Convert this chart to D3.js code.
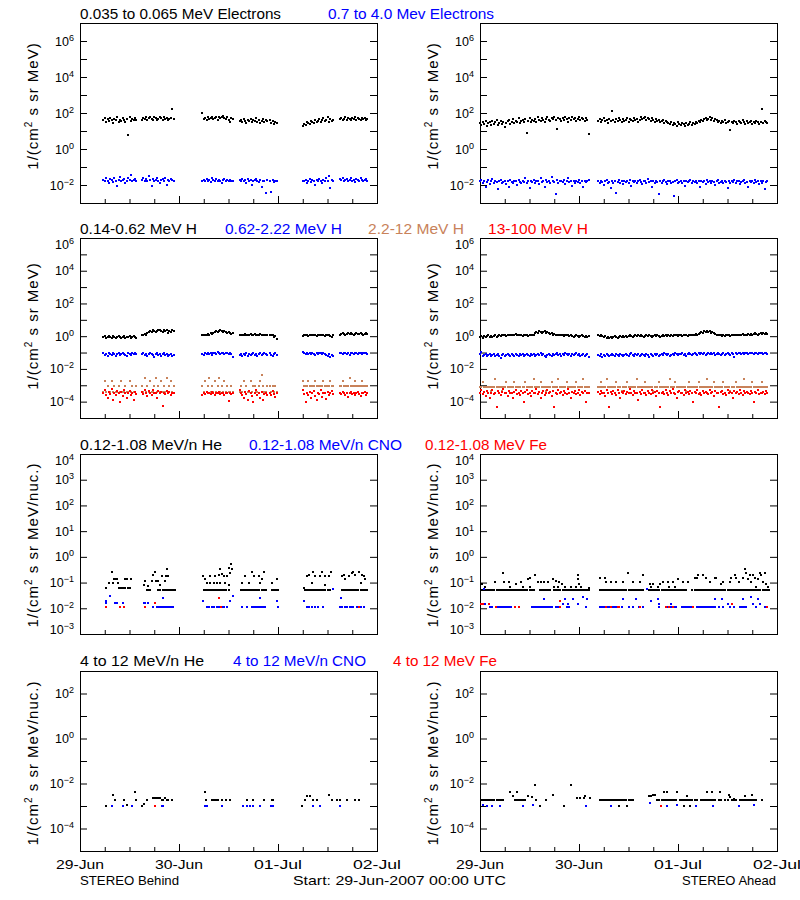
<!DOCTYPE html>
<html><head><meta charset="utf-8">
<script src="https://cdn.jsdelivr.net/npm/d3@7"></script>
<style>
body{margin:0;background:#fff}
text{font-family:"Liberation Sans",Arial,Helvetica,sans-serif}
</style></head>
<body><svg id="c" width="800" height="900"></svg>
<script>
// ---------------- DATA (intensities stored as log10 values) ----------------
const startLabel = "Start: 29-Jun-2007 00:00 UTC";
const dayLabels = ["29-Jun","30-Jun","01-Jul","02-Jul"];
const spacecraft = ["STEREO Behind","STEREO Ahead"];
const yUnits = ["1/(cm|2| s sr MeV)","1/(cm|2| s sr MeV)","1/(cm|2| s sr MeV/nuc.)","1/(cm|2| s sr MeV/nuc.)"];
const rowTitles = [
  ["0.035 to 0.065 MeV Electrons","0.7 to 4.0 Mev Electrons"],
  ["0.14-0.62 MeV H","0.62-2.22 MeV H","2.2-12 MeV H","13-100 MeV H"],
  ["0.12-1.08 MeV/n He","0.12-1.08 MeV/n CNO","0.12-1.08 MeV Fe"],
  ["4 to 12 MeV/n He","4 to 12 MeV/n CNO","4 to 12 MeV Fe"]
];
const rowLogDomain = [[-3,7],[-5,6],[-3,4],[-5,3]];

// data coverage: [start hour, number of 20-minute samples]
const behindSegments = [[5.67,25],[15,24],[29.67,23],[38.67,21],[46,6],[54,23],[63,21]];
const aheadSegments = [[0,80],[28.67,124]];

// Row 1 electrons, Behind
const behindElecLow = [
 1.6,1.7,1.5,1.65,1.55,1.7,1.6,1.45,1.65,1.6,1.75,1.5,1.6,1.55,1.7,1.6,1.5,1.65,0.8,1.75,1.55,1.65,1.6,1.7,1.6,
 1.6,1.7,1.65,1.75,1.6,1.7,1.8,1.65,1.6,1.75,1.7,1.6,1.65,1.8,1.7,1.6,1.75,1.65,1.7,1.6,1.65,1.7,2.2,1.65,
 2.0,1.65,1.7,1.6,1.75,1.65,1.7,1.8,1.65,1.7,1.75,1.6,1.8,1.7,1.75,1.85,1.7,1.65,1.75,1.6,1.5,1.7,1.65,
 1.55,1.6,1.5,1.65,1.55,1.45,1.6,1.55,1.65,1.5,1.6,1.55,1.7,1.5,1.6,1.45,1.55,1.65,1.5,1.6,1.55,
 1.6,1.45,1.55,1.4,1.5,1.45,
 1.3,1.4,1.35,1.5,1.45,1.4,1.55,1.5,1.45,1.6,1.5,1.55,1.65,1.5,1.6,1.7,1.55,1.6,1.8,1.5,1.65,1.55,1.6,
 1.65,1.7,1.6,1.65,1.75,1.6,1.7,1.65,1.6,1.7,1.65,1.75,1.6,1.7,1.65,1.6,1.7,1.65,1.7,1.6,1.65];
const behindElecHigh = [
 -1.7,-1.8,-1.6,-1.75,-1.9,-1.65,-1.7,-1.85,-1.6,-1.75,-2.05,-1.7,-1.55,-1.8,-1.7,-1.65,-1.9,-1.75,-1.6,-1.7,-1.45,-1.8,-1.7,-1.65,-1.75,
 -1.7,-1.6,-1.8,-1.65,-1.75,-1.5,-1.7,-2.05,-1.65,-1.8,-1.7,-1.6,-1.75,-1.9,-1.7,-1.65,-1.8,-1.6,-2.0,-1.7,-1.75,-1.65,-1.7,-1.8,
 -1.75,-1.7,-1.8,-1.65,-1.75,-1.7,-1.85,-1.6,-1.7,-1.75,-1.65,-1.8,-1.7,-1.75,-1.9,-1.7,-1.65,-1.8,-1.7,-1.75,-1.7,-1.8,-1.75,
 -1.7,-1.75,-1.65,-1.8,-1.7,-1.9,-1.65,-1.75,-1.7,-2.0,-1.8,-1.7,-1.65,-1.75,-1.85,-1.7,-2.1,-1.75,-1.8,-2.45,-1.7,
 -1.75,-2.4,-1.7,-1.85,-1.75,-1.8,
 -1.75,-1.8,-1.7,-1.9,-1.75,-1.65,-1.85,-1.7,-1.75,-2.0,-1.7,-1.8,-1.65,-1.75,-1.9,-1.7,-1.8,-1.6,-1.75,-1.5,-2.15,-1.7,-1.75,
 -1.65,-1.7,-1.6,-1.75,-1.7,-1.65,-1.8,-1.7,-1.6,-1.75,-1.7,-1.85,-1.65,-1.7,-1.75,-1.6,-1.7,-1.8,-1.7,-1.65,-1.75];
// Row 1 electrons, Ahead
const aheadElecLow = [
 1.45,1.35,1.5,1.4,1.55,1.3,1.45,1.5,1.35,1.55,1.4,1.5,1.6,1.35,1.45,1.55,1.4,1.5,1.25,1.45,
 1.55,1.6,1.4,1.5,1.65,1.45,1.55,1.5,1.7,1.45,1.55,1.6,1.5,1.65,0.9,1.55,1.7,1.5,1.6,1.55,
 1.65,1.5,1.75,1.6,1.55,1.7,1.6,1.5,1.65,1.75,1.6,1.55,1.7,1.65,1.8,1.6,1.1,1.7,1.65,1.55,
 1.7,1.6,1.75,1.65,1.5,1.7,1.6,1.8,1.65,1.7,1.55,1.65,1.75,1.6,1.7,1.65,1.55,1.7,1.6,0.85,
 1.55,1.65,1.5,1.6,1.7,1.55,1.6,1.45,1.65,1.55,2.1,1.6,1.5,1.65,1.55,1.7,1.6,1.5,1.65,1.55,
 1.6,1.7,1.5,1.65,1.6,1.55,1.7,1.6,1.65,1.5,1.6,1.75,1.65,1.7,1.8,1.6,1.7,1.65,1.55,1.7,
 1.6,1.5,1.65,1.55,1.6,1.5,1.55,1.6,1.45,1.55,1.5,1.45,1.4,1.5,1.35,1.45,1.4,1.3,1.5,1.4,
 1.35,1.45,1.4,1.3,1.45,1.35,1.4,1.5,1.35,1.45,1.4,1.5,1.45,1.55,1.5,1.6,1.55,1.65,1.7,1.6,
 1.65,1.75,1.6,1.7,1.55,1.65,1.6,1.5,1.55,1.45,1.55,1.5,1.6,1.45,1.5,1.55,1.05,1.5,1.45,1.55,
 1.5,1.4,1.55,1.5,1.45,1.6,1.5,1.4,1.55,1.45,1.5,1.55,1.4,1.5,1.45,1.55,1.5,1.4,1.5,2.2,
 1.45,1.55,1.5,1.45];
const aheadElecHigh = [
 -1.8,-1.7,-1.9,-1.75,-2.1,-1.85,-1.7,-1.95,-1.8,-1.65,-1.9,-1.75,-1.85,-2.2,-1.8,-1.7,-1.9,-1.85,-1.75,-1.95,
 -1.8,-2.1,-1.7,-1.85,-1.9,-1.75,-1.8,-2.0,-1.7,-1.85,-1.9,-1.75,-1.85,-1.6,-1.9,-1.8,-2.15,-1.75,-1.85,-1.7,
 -1.9,-1.8,-1.75,-1.95,-1.6,-1.85,-1.8,-2.1,-1.7,-1.85,-1.75,-1.9,-1.55,-1.8,-1.85,-2.5,-1.7,-1.9,-1.8,-1.75,
 -1.85,-1.7,-1.95,-1.8,-1.6,-1.85,-1.75,-2.05,-1.8,-1.9,-1.75,-1.85,-1.7,-1.9,-1.8,-2.1,-1.75,-1.85,-1.8,-1.7,
 -1.8,-1.9,-1.75,-1.85,-2.0,-1.8,-1.7,-1.9,-1.85,-2.15,-1.75,-1.9,-1.8,-2.45,-1.85,-1.7,-1.9,-1.8,-1.95,-1.75,
 -1.85,-1.8,-1.9,-1.7,-2.05,-1.8,-1.85,-1.75,-1.9,-1.8,-1.7,-1.85,-1.95,-1.75,-1.8,-1.9,-1.65,-1.85,-1.8,-2.1,
 -1.75,-1.9,-1.8,-1.85,-2.5,-1.75,-1.9,-1.8,-1.7,-1.85,-1.95,-1.8,-1.75,-1.9,-1.85,-2.6,-1.8,-1.7,-1.9,-1.85,
 -1.75,-1.9,-1.8,-2.05,-1.75,-1.85,-1.8,-1.7,-1.9,-1.8,-1.85,-1.75,-1.9,-1.8,-2.1,-1.75,-1.85,-1.8,-1.95,-1.7,
 -1.85,-1.8,-1.9,-1.75,-1.85,-2.0,-1.8,-1.7,-1.9,-1.85,-1.75,-1.9,-1.8,-1.85,-2.15,-1.75,-1.9,-1.8,-1.85,-1.7,
 -1.9,-1.8,-1.75,-1.95,-1.85,-1.8,-1.7,-1.9,-1.85,-2.1,-1.75,-1.85,-1.8,-1.9,-1.7,-1.85,-1.8,-1.95,-1.75,-1.9,
 -1.8,-2.2,-1.85,-1.8];

// Row 2 protons, Behind
const behindH1 = [
 -0.05,0,-0.1,-0.05,0,-0.05,-0.1,0,-0.05,-0.1,-0.05,0,-0.05,-0.1,-0.05,0,-0.1,-0.05,-0.05,0,-0.1,-0.05,0,-0.05,-0.1,
 0.05,0.1,0.15,0.1,0.2,0.25,0.3,0.25,0.35,0.3,0.25,0.3,0.35,0.4,0.3,0.25,0.35,0.3,0.4,0.2,0.3,0.25,0.35,0.3,
 0.05,0.1,0.05,0.1,0.15,0.1,0.2,0.15,0.2,0.25,0.3,0.25,0.3,0.35,0.3,0.25,0.3,0.25,0.2,0.25,0.2,0.15,0.2,
 0.05,0.1,0.05,0.1,0.15,0.1,0.05,0.1,0.15,0.1,0.1,0.15,0.1,0.05,0.1,0.15,0.1,0.05,0.1,0.1,0.05,
 0.1,0.05,0.1,-0.05,0,-0.15,
 0,0.05,0.1,0.05,0,0.05,0.1,0.05,0.1,0.05,0,0.05,0.1,0.05,0.05,0.1,0,0.05,0.1,0.05,0,-0.05,0.05,
 0.1,0.15,0.2,0.15,0.1,0.15,0.2,0.15,0.2,0.15,0.1,0.15,0.2,0.15,0.15,0.2,0.15,0.1,0.15,0.2,0.15];
const behindH2 = [
 -1.05,-1.15,-1.1,-1.2,-1.05,-1.1,-1.15,-1.0,-1.1,-1.2,-1.1,-1.05,-1.15,-1.1,-1.0,-1.1,-1.15,-1.2,-1.05,-1.1,-1.15,-1.05,-1.1,-1.0,-1.1,
 -1.1,-1.05,-1.15,-1.1,-1.2,-1.1,-1.05,-1.1,-1.15,-1.3,-1.1,-1.05,-1.15,-1.1,-1.2,-1.1,-1.05,-1.15,-1.1,-1.2,-1.15,-1.1,-1.2,-1.15,
 -1.1,-1.15,-1.05,-1.1,-1.0,-1.1,-1.05,-1.15,-1.0,-1.05,-1.1,-0.95,-1.05,-1.1,-1.0,-1.05,-1.1,-1.05,-1.0,-1.1,-1.05,-1.1,-1.3,
 -1.15,-1.1,-1.2,-1.1,-1.15,-1.05,-1.2,-1.1,-1.15,-1.1,-1.05,-1.15,-1.1,-1.2,-1.1,-1.05,-1.15,-1.1,-1.05,-1.1,-1.15,
 -1.05,-1.15,-1.2,-1.1,-1.05,-1.15,
 -0.95,-1.05,-1.1,-1.05,-1.1,-1.0,-1.1,-1.05,-1.1,-1.15,-1.05,-1.1,-1.0,-1.05,-1.1,-1.05,-1.1,-1.15,-1.2,-1.1,-1.25,-1.15,-1.2,
 -1.05,-1.0,-1.1,-1.05,-1.0,-1.1,-1.05,-1.15,-1.0,-1.05,-1.1,-1.0,-1.05,-1.1,-1.05,-1.0,-1.1,-1.05,-1.0,-1.05,-1.1];
const behindH3 = [
 -3.4,-2.75,-3.4,-3.05,-3.4,-3.4,-2.75,-3.4,-3.05,-3.4,-3.4,-3.05,-3.4,-2.75,-3.4,-3.4,-3.05,-3.4,-3.4,-2.75,-3.4,-3.05,-3.4,-3.4,-3.05,
 -3.05,-3.4,-2.55,-3.4,-3.05,-3.4,-2.75,-3.4,-3.4,-3.05,-2.55,-3.4,-3.05,-3.4,-2.75,-3.4,-3.05,-3.4,-2.55,-3.4,-3.05,-2.75,-3.4,-3.05,
 -3.05,-3.4,-2.75,-3.4,-3.05,-2.55,-3.4,-3.05,-3.4,-2.75,-3.4,-3.05,-2.55,-3.4,-3.05,-3.4,-2.75,-3.4,-3.05,-3.4,-3.4,-3.05,-3.4,
 -3.4,-3.05,-3.4,-2.75,-3.4,-3.05,-3.4,-3.4,-2.75,-3.4,-3.05,-3.05,-3.4,-3.4,-3.05,-2.75,-2.35,-3.05,-3.4,-3.4,-3.05,
 -3.05,-3.4,-3.05,-3.4,-3.05,-3.4,
 -2.75,-3.05,-3.05,-3.05,-2.75,-3.05,-3.05,-3.05,-3.05,-2.75,-3.05,-3.05,-3.05,-3.05,-3.05,-2.75,-3.05,-3.05,-3.05,-3.05,-2.75,-3.05,-3.05,
 -3.05,-3.05,-2.75,-3.05,-3.05,-3.05,-3.05,-2.55,-3.05,-3.05,-3.05,-2.75,-3.05,-3.05,-3.05,-3.05,-2.75,-3.05,-3.05,-3.05,-3.05];
const behindH4 = [
 -3.45,-3.3,-3.6,-3.75,-3.4,-3.55,-3.25,-3.9,-3.45,-3.6,-3.35,-3.5,-4.05,-3.4,-3.65,-3.3,-3.5,-3.8,-3.45,-3.35,-3.6,-3.5,-3.9,-3.4,-3.55,
 -3.4,-3.55,-3.3,-3.5,-3.65,-3.35,-3.45,-3.6,-3.3,-3.5,-3.45,-3.75,-3.35,-3.5,-3.4,-4.25,-3.45,-3.55,-3.35,-3.5,-3.4,-3.6,-3.45,-3.5,
 -3.6,-3.45,-3.55,-3.4,-3.5,-3.45,-3.55,-3.4,-3.5,-3.6,-3.45,-3.5,-3.4,-3.55,-3.45,-3.5,-3.6,-3.45,-3.5,-3.95,-3.45,-3.55,-3.5,
 -3.3,-3.45,-3.6,-3.75,-3.4,-3.55,-3.9,-3.35,-3.5,-3.65,-4.05,-3.45,-3.3,-3.6,-3.5,-3.75,-3.4,-3.9,-3.55,-3.45,-3.6,
 -3.45,-3.6,-3.35,-3.55,-3.7,-3.45,
 -3.3,-3.55,-4.05,-3.45,-3.6,-3.4,-3.75,-3.5,-3.35,-3.65,-3.9,-3.45,-3.55,-3.3,-3.7,-3.5,-3.45,-3.85,-3.4,-3.6,-3.5,-3.35,-3.55,
 -3.45,-3.55,-3.4,-3.5,-3.6,-3.45,-3.7,-3.5,-3.4,-3.55,-3.45,-3.6,-3.5,-3.4,-3.55,-3.65,-3.45,-3.5,-3.4,-3.6,-3.5];
// Row 2 protons, Ahead
const aheadH1 = [
 -0.05,0,-0.1,0,-0.05,0,0.05,-0.05,0,-0.05,0,0.05,-0.05,0,0.05,0,0.05,0.1,0.05,0,
 0.05,0.1,0.05,0.1,0.05,0.1,0.15,0.1,0.05,0.1,0.05,0,0.05,0.1,0.05,0,0.05,0.1,0.05,0.1,
 0.2,0.25,0.2,0.3,0.25,0.2,0.25,0.3,0.2,0.25,0.2,0.15,0.2,0.1,0.15,0.1,0.05,0.1,0.05,0.1,
 0.05,0,0.05,0.1,0.05,0,0.05,0,-0.05,0,0.05,0,-0.05,0,0.05,0,-0.05,0,-0.05,0,
 0.05,0,0.05,0,-0.05,0,-0.1,-0.05,-0.1,-0.05,-0.1,-0.05,0,-0.05,-0.1,-0.05,0,-0.05,0,-0.05,
 0,-0.05,0,0.05,0,-0.05,0,0.05,0,0.05,0,0.05,0,-0.05,0,0.05,0,0.05,0,-0.05,
 0,0.05,0,0.05,0,-0.05,0,0.05,0,0.05,0,0.05,0,0.05,0,0.05,0.1,0.05,0,0.05,
 0.05,0,0.05,0.1,0.05,0,0.05,0.1,0.05,0.1,0.1,0.15,0.1,0.15,0.2,0.25,0.2,0.3,0.25,0.3,
 0.25,0.3,0.2,0.25,0.2,0.15,0.1,0.05,0.1,0.05,0,0.05,0,0.05,0.1,0.05,0,0.05,0.1,0.05,
 0.1,0.05,0.1,0.05,0.1,0.15,0.1,0.05,0.1,0.15,0.1,0.15,0.1,0.15,0.2,0.15,0.1,0.15,0.2,0.15,
 0.2,0.15,0.2,0.15];
const aheadH2 = [
 -1.1,-0.95,-1.2,-1.15,-1.1,-1.2,-1.15,-1.1,-1.2,-1.15,-1.1,-1.2,-1.15,-1.1,-1.2,-1.35,-1.15,-1.1,-1.2,-1.15,
 -1.1,-1.15,-1.2,-1.1,-1.15,-1.2,-1.1,-1.15,-1.2,-1.1,-1.15,-1.1,-1.2,-1.15,-1.1,-1.15,-1.2,-1.1,-1.15,-1.1,
 -1.2,-1.15,-1.1,-1.15,-1.05,-1.15,-1.1,-1.2,-1.3,-1.15,-1.1,-1.15,-1.2,-1.1,-1.15,-1.1,-1.05,-1.15,-1.1,-1.2,
 -1.1,-1.15,-1.05,-1.1,-1.15,-1.1,-1.2,-1.1,-1.15,-1.1,-1.05,-1.15,-1.1,-1.2,-1.15,-1.1,-1.2,-1.15,-1.1,-1.25,
 -1.15,-1.2,-1.1,-1.25,-1.15,-1.2,-1.1,-1.15,-1.2,-1.15,-1.1,-1.15,-1.2,-1.1,-1.15,-1.2,-1.1,-1.15,-1.2,-1.15,
 -1.1,-1.15,-1.2,-1.1,-1.05,-1.15,-1.2,-1.1,-1.15,-1.1,-1.2,-1.15,-1.1,-1.15,-1.2,-1.1,-1.15,-1.3,-1.1,-1.15,
 -1.2,-1.1,-1.15,-1.1,-1.2,-1.15,-1.1,-1.15,-1.05,-1.1,-1.15,-1.1,-1.2,-1.15,-1.1,-1.15,-1.05,-1.1,-1.15,-1.1,
 -1.1,-1.05,-1.15,-1.1,-1.2,-1.1,-1.05,-1.1,-1.15,-1.1,-1.05,-1.1,-1.15,-1.05,-1.1,-1.0,-1.1,-1.05,-1.15,-1.1,
 -1.05,-1.1,-1.0,-1.1,-1.05,-1.15,-1.1,-1.05,-1.1,-1.15,-1.1,-1.05,-1.15,-1.1,-1.05,-1.1,-1.15,-1.05,-1.1,-1.3,
 -1.05,-1.1,-1.0,-1.05,-1.1,-1.05,-1.1,-1.0,-1.05,-1.1,-1.05,-1.0,-1.05,-1.1,-1.0,-1.05,-1.1,-1.05,-1.0,-1.05,
 -1.1,-1.0,-1.05,-1.1];
const aheadH3 = [
 -3.1,-3.1,-2.8,-3.1,-3.1,-3.1,-3.1,-3.1,-3.35,-3.1,-3.1,-2.6,-3.1,-3.1,-3.1,-3.1,-3.35,-3.1,-3.1,-2.8,
 -3.1,-3.1,-3.1,-3.1,-3.1,-2.8,-3.1,-3.1,-3.1,-3.1,-3.35,-3.1,-3.1,-2.8,-3.1,-3.1,-3.1,-3.1,-3.1,-2.6,
 -3.1,-3.1,-3.1,-3.1,-2.8,-3.1,-3.1,-3.1,-3.35,-3.1,-3.1,-3.1,-2.8,-3.1,-3.1,-3.1,-3.1,-2.6,-3.1,-3.1,
 -3.1,-3.1,-3.1,-2.8,-3.1,-3.1,-3.1,-3.1,-3.1,-3.1,-2.8,-3.1,-3.1,-3.1,-3.1,-2.6,-3.1,-3.1,-3.1,-3.1,
 -3.1,-3.1,-2.8,-3.1,-3.1,-3.1,-2.6,-3.1,-3.1,-3.1,-3.1,-3.1,-3.1,-2.8,-3.1,-3.1,-3.1,-3.35,-3.1,-3.1,
 -3.1,-2.8,-3.1,-3.1,-3.1,-3.1,-3.1,-3.1,-2.6,-3.1,-3.1,-3.1,-3.1,-3.1,-2.8,-3.1,-3.1,-3.1,-3.1,-3.1,
 -3.35,-3.1,-3.1,-3.1,-2.8,-3.1,-3.1,-3.1,-3.1,-3.1,-3.1,-3.1,-2.6,-3.1,-3.1,-3.1,-2.8,-3.1,-3.1,-3.1,
 -3.1,-3.1,-3.1,-3.1,-3.35,-3.1,-2.8,-3.1,-3.1,-3.1,-3.1,-3.1,-3.1,-2.8,-3.1,-3.1,-3.1,-3.1,-3.1,-2.6,
 -3.1,-3.1,-3.1,-3.1,-2.8,-3.1,-3.1,-3.1,-3.1,-3.1,-3.1,-2.8,-3.1,-3.1,-3.1,-3.1,-3.35,-3.1,-3.1,-3.1,
 -2.8,-3.1,-3.1,-3.1,-3.1,-3.1,-2.6,-3.1,-3.1,-3.1,-3.1,-3.1,-2.8,-3.1,-3.1,-3.1,-3.1,-3.1,-3.1,-2.8,
 -3.1,-3.1,-3.1,-3.1];
const aheadH4 = [
 -3.45,-3.3,-3.55,-3.4,-3.65,-3.35,-3.5,-3.8,-3.45,-3.3,-3.55,-3.45,-4.3,-3.35,-3.5,-3.6,-3.4,-3.25,-3.5,-3.45,
 -3.65,-3.35,-3.5,-3.45,-3.8,-3.4,-3.3,-3.55,-3.45,-3.6,-3.35,-3.5,-4.0,-3.4,-3.3,-3.55,-3.45,-3.65,-3.35,-3.5,
 -3.45,-3.25,-3.55,-3.4,-3.8,-3.5,-3.35,-3.6,-3.45,-3.3,-3.5,-3.4,-3.65,-3.35,-4.3,-3.45,-3.55,-3.3,-3.5,-3.4,
 -3.6,-3.35,-3.45,-3.55,-3.25,-3.5,-3.8,-3.4,-3.45,-3.35,-3.55,-3.45,-3.3,-3.6,-3.4,-3.5,-3.35,-4.0,-3.45,-3.5,
 -3.4,-3.55,-3.35,-3.5,-3.45,-3.65,-3.3,-3.5,-4.3,-3.4,-3.55,-3.35,-3.45,-3.6,-3.3,-3.5,-3.8,-3.4,-3.45,-3.35,
 -3.55,-3.4,-3.5,-3.25,-3.45,-3.6,-3.35,-3.5,-3.45,-3.9,-3.4,-3.55,-3.3,-3.5,-3.45,-3.6,-3.35,-3.45,-3.55,-3.3,
 -3.5,-3.4,-3.65,-3.35,-3.45,-4.3,-3.5,-3.4,-3.55,-3.3,-3.45,-3.6,-3.35,-3.5,-3.25,-3.45,-3.55,-3.8,-3.4,-3.35,
 -3.5,-3.45,-3.6,-3.3,-3.5,-3.4,-3.55,-3.35,-3.45,-4.0,-3.4,-3.5,-3.3,-3.55,-3.45,-3.6,-3.35,-3.5,-3.4,-3.45,
 -3.55,-3.3,-3.5,-3.4,-3.65,-3.35,-3.45,-3.5,-4.3,-3.4,-3.35,-3.55,-3.45,-3.6,-3.3,-3.5,-3.4,-3.45,-3.8,-3.35,
 -3.5,-3.4,-3.55,-3.3,-3.45,-3.6,-3.35,-3.5,-3.4,-3.45,-3.55,-3.35,-3.5,-4.0,-3.4,-3.45,-3.3,-3.55,-3.45,-3.5,
 -3.4,-3.55,-3.35,-3.45];

// Row 3 and row 4 ions: [hour, log10 intensity]
const behindHeLow = [[6.3,-1.2],[7,-1],[7.85,-0.58],[8.1,-1],[8.25,-0.87],[8.65,-0.87],[9,-0.87],[9.15,-1],[9.5,-1.2],[10,-1.2],[10.5,-1.2],[10.8,-0.87],[11,-1.2],[11.3,-0.85],[11.6,-1.2],[12,-1.2],[12.4,-0.87],
 [15.4,-1.1],[15.8,-0.95],[16.2,-1.28],[16.6,-1.28],[16.6,-1.15],[17,-1.28],[17.4,-0.95],[17.8,-0.72],[18.2,-0.58],[18.4,-0.95],[19,-0.95],[19,-1.28],[19.4,-1.1],[19.5,-1.28],[19.8,-0.75],[20,-1.28],[20.5,-1.28],[20.6,-0.95],[20.8,-0.75],[21,-0.48],[21,-1.28],[21.4,-0.75],[21.5,-1.28],[22,-1.28],[22.5,-1.28],[23,-1.28],
 [29.9,-0.75],[30,-1.28],[30.3,-0.87],[30.5,-1.28],[30.7,-1],[31,-1.28],[31.5,-1.28],[31.6,-1],[31.6,-0.75],[32,-1.28],[32.4,-1],[32.5,-1.28],[32.8,-0.75],[33,-1.28],[33.2,-1],[33.5,-1.28],[33.6,-0.72],[34,-1],[34,-0.48],[34,-1.28],[34.4,-0.68],[34.5,-1.28],[34.8,-0.75],[35,-1.28],[35.2,-1],[35.5,-1.28],[35.6,-0.75],[36,-1.28],[36,-0.45],[36,-1.1],[36.4,-0.62],[36.6,-0.28],[36.8,-0.48],
 [39,-1.28],[39.2,-1],[39.5,-1.28],[40,-1.28],[40,-0.75],[40.5,-1.28],[40.9,-1],[41,-1.28],[41.5,-1.28],[41.8,-0.58],[42,-1.28],[42.1,-0.75],[42.5,-1.28],[43,-1.28],[43.3,-0.75],[43.5,-1.28],[43.7,-1],[44,-1.28],[44.1,-0.87],[44.5,-1.28],[44.5,-0.6],[45,-1.28],
 [46.5,-1.28],[46.5,-1],[47,-1.28],[47.5,-1.28],[47.7,-0.85],[48,-1.28],
 [54.2,-1.2],[54.5,-1.28],[55,-1.28],[55,-0.75],[55.4,-0.72],[55.5,-1.28],[56,-1.28],[56.2,-1],[56.5,-1.28],[56.6,-0.58],[57,-1.28],[57,-0.75],[57.5,-1.28],[58,-1.28],[58.2,-0.75],[58.5,-1.28],[58.7,-0.58],[59,-1.28],[59.5,-1.28],[59.5,-0.75],[59.5,-1.1],[60,-1.28],[60.3,-0.75],[60.5,-1.28],[60.8,-0.58],
 [63.5,-1.28],[63.5,-0.75],[63.9,-0.72],[64,-1.28],[64.3,-0.87],[64.5,-1.28],[65,-1.28],[65.1,-0.75],[65.5,-1.28],[65.9,-0.62],[66,-1.28],[66.3,-0.58],[66.5,-1.28],[66.7,-0.72],[67,-1.28],[67.5,-1.28],[67.6,-0.58],[68,-1.28],[68,-1],[68.4,-0.72],[68.5,-1.28],[68.8,-0.75],[69,-1.28],[69.2,-0.87],[69.5,-1.28]];
const behindCnoLow = [[6.2,-1.7],[6.2,-1.81],[7.3,-1.53],[8.5,-1.81],[9,-1.81],[10.35,-1.81],[15.4,-1.81],[15.8,-1.81],[16.6,-1.81],[17.8,-1.94],[18.6,-1.94],[19,-1.94],[19.4,-1.94],[19.8,-1.94],[20.2,-1.94],[20.2,-1.6],[20.6,-1.94],[21,-1.94],[21.4,-1.94],[21.8,-1.94],[22.2,-1.94],[22.6,-1.94],
 [29.7,-1.7],[30.9,-1.94],[31.3,-1.94],[32.1,-1.94],[32.5,-1.94],[33.3,-1.94],[33.7,-1.94],[34.5,-1.94],[34.9,-1.94],[35.6,-1.94],[36.4,-1.7],[37,-1.53],
 [39.2,-1.94],[40.4,-1.94],[41.7,-1.94],[42.1,-1.94],[42.5,-1.94],[42.9,-1.94],[43.3,-1.94],[43.7,-1.6],[43.7,-1.94],[44.1,-1.94],[44.5,-1.94],[44.9,-1.94],[47.7,-1.7],[48,-1.94],
 [54.2,-1.7],[55,-1.94],[55.4,-1.94],[56.2,-1.94],[57,-1.94],[57.8,-1.94],[59,-1.94],
 [61.4,-1.25],[63.3,-1.6],[63.1,-1.94],[63.5,-1.94],[64.3,-1.94],[64.7,-1.94],[65.5,-1.94],[65.9,-1.94],[66.3,-1.94],[67.2,-1.94],[68,-1.94],[68.8,-1.94]];
const behindFeLow = [[6.3,-1.94],[9.7,-1.94],[10.6,-1.94],[15.8,-1.94],[18.2,-1.81],[33.7,-1.6],[34.2,-1.94],[67.6,-1.94]];

const aheadHeLow = [[0.5,-1.3],[1,-1.3],[1.5,-1.3],[2,-1.3],[2.5,-1.3],[3,-1.3],[3.5,-1.3],[4,-1.3],[4.5,-1.3],[5,-1.3],[5.5,-1.3],[6,-1.3],[6.5,-1.3],[7,-1.3],[7.5,-1.3],[8,-1.3],[8.5,-1.3],[9,-1.3],[9.5,-1.3],[10,-1.3],[10.5,-1.3],[11,-1.3],[11.5,-1.3],[12,-1.3],[12.5,-1.3],[13,-1.3],
 [14.5,-1.3],[15,-1.3],[15.5,-1.3],[16,-1.3],[16.5,-1.3],[17,-1.3],
 [18,-1.3],[18.5,-1.3],[19,-1.3],[19.5,-1.3],[20,-1.3],[20.5,-1.3],[21,-1.3],[21.5,-1.3],[22,-1.3],[22.5,-1.3],[23,-1.3],[23.5,-1.3],[24,-1.3],[24.5,-1.3],[25,-1.3],[25.5,-1.3],[26,-1.3],[26.5,-1.3],
 [29,-1.3],[29.5,-1.3],[30,-1.3],[30.5,-1.3],[31,-1.3],[31.5,-1.3],[32,-1.3],[32.5,-1.3],[33,-1.3],[33.5,-1.3],[34,-1.3],[34.5,-1.3],[35,-1.3],[35.5,-1.3],[36,-1.3],[36.5,-1.3],[37,-1.3],[37.5,-1.3],[38,-1.3],[38.5,-1.3],[39,-1.3],[39.5,-1.3],
 [41,-1.3],[41.5,-1.3],[42,-1.3],[42.5,-1.3],[43,-1.3],[43.5,-1.3],[44,-1.3],[44.5,-1.3],[45,-1.3],[45.5,-1.3],[46,-1.3],[46.5,-1.3],[47,-1.3],[47.5,-1.3],[48,-1.3],[48.5,-1.3],[49,-1.3],[49.5,-1.3],[50,-1.3],[51.5,-1.3],[52,-1.3],[52.5,-1.3],[53,-1.3],[53.5,-1.3],[54,-1.3],[54.5,-1.3],[55,-1.3],[55.5,-1.3],[56,-1.3],[56.5,-1.3],[57,-1.3],[57.5,-1.3],[58,-1.3],[58.5,-1.3],[59,-1.3],[59.5,-1.3],[60,-1.3],[60.5,-1.3],[61,-1.3],[61.5,-1.3],[62,-1.3],[62.5,-1.3],[63,-1.3],[63.5,-1.3],[64,-1.3],[64.5,-1.3],[65,-1.3],[65.5,-1.3],[66,-1.3],[66.5,-1.3],[67,-1.3],[67.5,-1.3],[68,-1.3],[68.5,-1.3],[69,-1.3],[69.5,-1.3],[70,-1.3],
 [0.5,-1.06],[1.3,-1.18],[3.7,-0.99],[5.5,-0.62],[5.9,-0.99],[7.1,-0.99],[7.3,-1.18],[8.7,-1.06],[9.9,-0.99],[10.4,-1.18],[11.6,-0.88],[12,-0.82],[12.1,-1.18],[13.4,-0.7],[14,-0.99],[14.8,-0.99],[15.6,-0.99],[16.4,-0.99],[17.6,-0.88],[18,-1.18],[18.4,-0.92],[18.8,-1.18],[19.1,-0.99],[19.9,-1.06],[20.5,-1.18],[22.1,-1.18],[23.3,-1.18],[23.7,-0.71],[23.7,-0.88],[24.1,-1.06],[24.5,-1.18],[26.5,-1.2],
 [29.1,-0.82],[30.2,-0.82],[30.6,-0.99],[31.8,-0.99],[33,-0.99],[34.6,-0.99],[35.8,-0.62],[37.1,-0.99],[38.9,-0.99],[39.5,-0.71],[41.1,-1.06],[41.5,-1.18],[41.9,-1.06],[43.1,-1.18],[43.7,-1.06],[44.3,-0.99],[45.5,-0.99],[45.9,-1.18],[46.8,-0.99],[47.3,-1.18],[48,-0.88],[49.2,-0.99],[50.4,-0.99],[52,-0.82],[52.6,-0.82],[52.8,-0.71],[54,-0.71],[54.9,-0.82],[55.7,-0.99],[56.9,-0.82],[57.3,-0.82],[58.5,-1.06],[58.9,-0.99],[60.5,-0.99],[60.9,-0.82],[61.7,-0.71],[62.1,-0.82],[62.9,-0.99],[63.8,-0.82],[64.2,-0.49],[64.6,-0.62],[65,-0.88],[65.4,-0.71],[65.8,-0.99],[66.2,-0.71],[66.6,-0.82],[67,-1.18],[67.4,-0.88],[67.8,-0.62],[68.2,-0.71],[68.6,-0.99],[69,-0.62],[69.4,-1.06],[69.8,-1.18]];
const aheadCnoLow = [[2.5,-1.96],[3,-1.96],[4,-1.96],[4.5,-1.96],[5,-1.96],[5.5,-1.96],[6,-1.96],[6.5,-1.96],[7,-1.96],[7.5,-1.96],[9.5,-1.96],[12.5,-1.96],[13,-1.96],[13.5,-1.96],[14,-1.96],[14.5,-1.96],[15,-1.96],[15.5,-1.96],[16,-1.96],[16.5,-1.96],[17,-1.96],[17.5,-1.96],[18.5,-1.96],[19,-1.96],[21,-1.96],[21.5,-1.96],[25.7,-1.96],
 [29,-1.96],[29.5,-1.96],[30,-1.96],[30.5,-1.96],[31,-1.96],[31.5,-1.96],[32,-1.96],[32.5,-1.96],[33,-1.96],[33.5,-1.96],[34.5,-1.96],[36,-1.96],[37,-1.96],[38.5,-1.96],[39.5,-1.96],[43.5,-1.96],[45,-1.96],[45.5,-1.96],[46,-1.96],[46.5,-1.96],[47,-1.96],[47.5,-1.96],[49,-1.96],[49.5,-1.96],[50,-1.96],[50.5,-1.96],[51,-1.96],[51.5,-1.96],[52.5,-1.96],[53,-1.96],[53.5,-1.96],[54,-1.96],[54.5,-1.96],[55,-1.96],[55.5,-1.96],[56,-1.96],[56.5,-1.96],[57,-1.96],[58,-1.96],[59,-1.96],[60.5,-1.96],[61.5,-1.96],[63,-1.96],[63.5,-1.96],[64,-1.96],[64.5,-1.96],[67,-1.96],[69,-1.96],[69.5,-1.96],
 [1,-1.25],[1.3,-1.83],[15.6,-1.63],[20.2,-1.83],[20.5,-1.63],[21.3,-1.83],[22.5,-1.63],[23.7,-1.83],[24.9,-1.55],[25.9,-1.63],[34.6,-1.63],[37.9,-1.63],[40.4,-1.25],[41.5,-1.72],[43.1,-1.63],[43.4,-1.83],[46.4,-1.83],[56.9,-1.63],[58.7,-1.63],[60.1,-1.83],[63.8,-1.63],[65.8,-1.55],[66.2,-1.83],[67.4,-1.63],[67.8,-1.83]];
const aheadFeLow = [[0.2,-1.83],[0.8,-1.83],[2.1,-1.83],[3.9,-1.96],[8.6,-1.96],[9.5,-1.96],[19.4,-1.72],[19.4,-1.96],[30.6,-1.96],[31.8,-1.96],[33.4,-1.96],[33.8,-1.96],[38.8,-1.96],[45.1,-1.96],[45.9,-1.96],[46.8,-1.96],[51.6,-1.96],[61.2,-1.83],[69.6,-1.96]];

const behindHeHigh = [[6.3,-3.01],[7.9,-2.52],[8.5,-2.74],[10.7,-2.74],[11.3,-2.95],[13.3,-2.37],[13.6,-2.74],[15,-3.01],[15.5,-2.9],[16.2,-2.74],[17.8,-2.65],[18.2,-2.65],[18.6,-2.65],[19,-2.65],[19.4,-2.65],[19.8,-2.74],[20.2,-2.74],[20.6,-2.65],[21.1,-2.74],[21.4,-2.74],[22.2,-2.74],
 [30.3,-2.37],[30.6,-2.74],[32,-2.74],[32.5,-2.74],[33,-2.74],[33.5,-2.74],[34.5,-2.74],[35.5,-2.74],[36.4,-2.74],[40.5,-2.74],[42,-2.74],[44.5,-2.74],[46.5,-2.74],[46.9,-2.74],
 [53.8,-2.98],[54.6,-2.74],[55,-2.55],[55.8,-2.55],[56.6,-2.74],[57.4,-2.74],[58.3,-3.01],[60.3,-2.52],[61.1,-2.74],[62.3,-2.74],[63.1,-2.74],[64.7,-2.74],[66.7,-2.74],[67.6,-2.74]];
const behindCnoHigh = [[7.7,-3.01],[10.4,-3.01],[12.5,-3.01],[19.8,-3.01],[20.2,-3.01],[30.3,-3.01],[30.8,-3.01],[34.4,-3.01],[39.6,-3.01],[40.4,-3.01],[41.2,-3.01],[42,-3.01],[43.7,-3.01],[46.4,-3.01],[46.8,-3.01],[56.6,-3.01],[58.3,-3.01],[63.1,-3.01]];
const behindFeHigh = [[18.2,-3.01]];
const aheadHeHigh = [[0.5,-2.74],[1,-2.74],[1.5,-2.74],[2,-2.74],[2.5,-2.74],[3,-2.74],[3.5,-2.74],[4,-2.74],[4.5,-2.74],[5,-2.74],[5.5,-2.74],[8.5,-2.74],[9,-2.74],[9.5,-2.74],[10,-2.74],[10.5,-2.74],[11,-2.74],[13.5,-2.74],[16,-2.74],
 [29,-2.74],[29.5,-2.74],[30,-2.74],[30.5,-2.74],[31,-2.74],[31.5,-2.74],[32,-2.74],[32.5,-2.74],[33,-2.74],[33.5,-2.74],[34,-2.74],[34.5,-2.74],[35,-2.74],[35.5,-2.74],[36,-2.74],[36.5,-2.74],[37,-2.74],
 [43,-2.74],[43.5,-2.74],[44,-2.74],[44.5,-2.74],[45,-2.74],[45.5,-2.74],[46,-2.74],[46.5,-2.74],[47,-2.74],[47.5,-2.74],[48.5,-2.74],[49,-2.74],[49.5,-2.74],[50,-2.74],[50.5,-2.74],[51,-2.74],[51.5,-2.74],[52,-2.74],[52.5,-2.74],[53.5,-2.74],[54,-2.74],[54.5,-2.74],[55,-2.74],[55.5,-2.74],[56,-2.74],[56.5,-2.74],[57,-2.74],[58,-2.74],[58.5,-2.74],[59.5,-2.74],[60,-2.74],[61,-2.74],[61.5,-2.74],[62,-2.74],[63,-2.74],[63.5,-2.74],[64,-2.74],[64.5,-2.74],[65,-2.74],[65.5,-2.74],[66,-2.74],[66.5,-2.74],[67,-2.74],
 [7.3,-2.37],[8.1,-2.55],[8.9,-2.37],[11.7,-2.55],[12.5,-2.62],[13.3,-2.07],[14.6,-3.01],[17.8,-2.52],[20.4,-3.01],[22,-2.07],[23.5,-2.65],[24.3,-2.65],[25.1,-2.65],[25.5,-2.55],[26.7,-2.65],[33.8,-3.01],[35.6,-3.01],[40.9,-2.55],[41.4,-2.55],[42,-2.52],[42.5,-2.5],[44.5,-2.37],[45.3,-2.37],[47.7,-2.37],[49.4,-3.01],[50.3,-2.55],[51,-3.01],[55,-2.37],[56.2,-2.37],[58.3,-2.37],[60.3,-2.52],[60.7,-2.62],[61.5,-2.7],[64.3,-2.55],[65.9,-2.52],[68.4,-2.74]];
const aheadCnoHigh = [[0.8,-2.95],[1.8,-3.01],[2.8,-3.01],[4.9,-3.01],[10.4,-3.01],[12.8,-2.95],[25.7,-3.01],[31.7,-3.01],[41.1,-2.85],[45.3,-3.01],[47.7,-2.95],[52.4,-3.01],[56.5,-3.01],[62.9,-3.01],[66.5,-2.95]];
const aheadFeHigh = [[43.9,-3.01]];

// ---------------- DRAWING ----------------
const BLACK = "#000000", BLUE = "#0000ff", SIENNA = "#c8825a", RED = "#ff0000";
const titleColors = [[BLACK,BLUE],[BLACK,BLUE,SIENNA,RED],[BLACK,BLUE,RED],[BLACK,BLUE,RED]];
const titleLayout = [
  [[80,201],[328,166]],
  [[80,117],[225,117],[368,96],[488,100]],
  [[80,142],[249,153],[425,122]],
  [[80,124],[233,133],[393,104]]
];
const titleBaseline = [18.5, 233.5, 450, 666];
const yTitleCenter = [106, 326, 545, 763];

const t0 = Date.UTC(2007, 5, 29);
const toDate = h => new Date(t0 + h * 3600000);
const W = 297, H = 180;
const colLeft = [80, 480];
const rowTop = [23, 238, 454, 671];

function denseSeries(segs, logs) {
  const hrs = [];
  segs.forEach(([s, n]) => { for (let i = 0; i < n; i++) hrs.push(s + i / 3); });
  return logs.map((v, i) => [hrs[i], v]).filter(d => d[0] != null && d[1] != null);
}

const panelSeries = [
  [ [[denseSeries(behindSegments, behindElecLow), BLACK],[denseSeries(behindSegments, behindElecHigh), BLUE]],
    [[denseSeries(aheadSegments, aheadElecLow), BLACK],[denseSeries(aheadSegments, aheadElecHigh), BLUE]] ],
  [ [[denseSeries(behindSegments, behindH1), BLACK],[denseSeries(behindSegments, behindH2), BLUE],[denseSeries(behindSegments, behindH3), SIENNA],[denseSeries(behindSegments, behindH4), RED]],
    [[denseSeries(aheadSegments, aheadH1), BLACK],[denseSeries(aheadSegments, aheadH2), BLUE],[denseSeries(aheadSegments, aheadH3), SIENNA],[denseSeries(aheadSegments, aheadH4), RED]] ],
  [ [[behindHeLow, BLACK],[behindCnoLow, BLUE],[behindFeLow, RED]],
    [[aheadHeLow, BLACK],[aheadCnoLow, BLUE],[aheadFeLow, RED]] ],
  [ [[behindHeHigh, BLACK],[behindCnoHigh, BLUE],[behindFeHigh, RED]],
    [[aheadHeHigh, BLACK],[aheadCnoHigh, BLUE],[aheadFeHigh, RED]] ]
];

const svg = d3.select("#c");
svg.append("rect").attr("width",800).attr("height",900).attr("fill","#fff");

const xDomain = [toDate(0), toDate(72)];
const sixHours = d3.utcHour.every(6).range(toDate(0), toDate(72.01));
const days = d3.utcDay.range(toDate(0), toDate(72.01));
const minorTicks = sixHours.filter(d => d.getUTCHours() !== 0);
const fmtDay = d3.utcFormat("%d-%b");

rowTop.forEach((top, r) => {
  rowTitles[r].forEach((t, k) => {
    svg.append("text").attr("x", titleLayout[r][k][0]).attr("y", titleBaseline[r])
      .attr("font-size", 15).attr("fill", titleColors[r][k])
      .attr("textLength", titleLayout[r][k][1]).attr("lengthAdjust", "spacingAndGlyphs").text(t);
  });
  const [lo, hi] = rowLogDomain[r];
  const decades = d3.range(lo, hi + 1);
  const labelled = decades.filter(e => (r === 2) || e % 2 === 0);
  colLeft.forEach((left, c) => {
    const x = d3.scaleUtc().domain(xDomain).range([left, left + W]);
    const y = d3.scaleLog().domain([10 ** lo, 10 ** hi]).range([top + H, top]);
    const g = svg.append("g");
    g.append("rect").attr("x", left + 0.5).attr("y", top + 0.5).attr("width", W).attr("height", H)
      .attr("fill", "none").attr("stroke", "#000").attr("stroke-width", 1);
    g.append("g").attr("transform", `translate(${left},0)`)
      .call(d3.axisLeft(y).tickValues(decades.map(e => 10 ** e)).tickSize(-7).tickFormat(""))
      .call(a => a.select(".domain").remove());
    g.append("g").attr("transform", `translate(${left + W},0)`)
      .call(d3.axisRight(y).tickValues(decades.map(e => 10 ** e)).tickSize(-7).tickFormat(""))
      .call(a => a.select(".domain").remove());
    g.append("g").attr("transform", `translate(0,${top + H})`)
      .call(d3.axisBottom(x).tickValues(minorTicks).tickSize(-4).tickFormat(""))
      .call(a => a.select(".domain").remove());
    g.append("g").attr("transform", `translate(0,${top + H})`)
      .call(d3.axisBottom(x).tickValues(days).tickSize(-7).tickFormat(""))
      .call(a => a.select(".domain").remove());
    g.selectAll(".tick line").attr("stroke", "#000");
    labelled.forEach(e => {
      const base = Math.min(Math.max(y(10 ** e) + 4.5, top + 10.5), top + H);
      const t = g.append("text").attr("x", left - 6).attr("y", base)
        .attr("text-anchor", "end").attr("font-size", 12.5).attr("fill", "#000");
      t.append("tspan").text("10");
      t.append("tspan").attr("dy", -5).attr("font-size", 9).text(e < 0 ? "\u2212" + (-e) : String(e));
    });
    const parts = yUnits[r].split("|");
    const yt = g.append("text")
      .attr("transform", `translate(${left - 42},${yTitleCenter[r]}) rotate(-90)`)
      .attr("text-anchor", "middle").attr("font-size", 15).attr("letter-spacing", 1).attr("fill", "#000");
    yt.append("tspan").text(parts[0]);
    yt.append("tspan").attr("dy", -6).attr("font-size", 10).text(parts[1]);
    yt.append("tspan").attr("dy", 6).text(parts[2]);
    panelSeries[r][c].forEach(([pts, color]) => {
      g.append("g").selectAll("rect").data(pts).join("rect")
        .attr("x", d => Math.round(x(toDate(d[0]))) - 1)
        .attr("y", d => Math.round(y(10 ** d[1])) - 1)
        .attr("width", 2).attr("height", 2).attr("fill", color)
        .attr("shape-rendering", "crispEdges");
    });
    if (r === 3) {
      g.selectAll("text.day").data(days).join("text").attr("class", "day")
        .attr("x", d => x(d)).attr("y", 869).attr("text-anchor", "middle")
        .attr("font-size", 13.5).attr("textLength", 48).attr("lengthAdjust", "spacingAndGlyphs")
        .attr("fill", "#000").text((d, i) => dayLabels[i] || fmtDay(d));
    }
  });
});

svg.append("text").attr("x", 80).attr("y", 885).attr("font-size", 13.5).attr("textLength", 99).attr("lengthAdjust","spacingAndGlyphs").text(spacecraft[0]);
svg.append("text").attr("x", 293).attr("y", 885).attr("font-size", 13.5).attr("textLength", 213).attr("lengthAdjust","spacingAndGlyphs").text(startLabel);
svg.append("text").attr("x", 682).attr("y", 885).attr("font-size", 13.5).attr("textLength", 94).attr("lengthAdjust","spacingAndGlyphs").text(spacecraft[1]);
</script></body></html>
